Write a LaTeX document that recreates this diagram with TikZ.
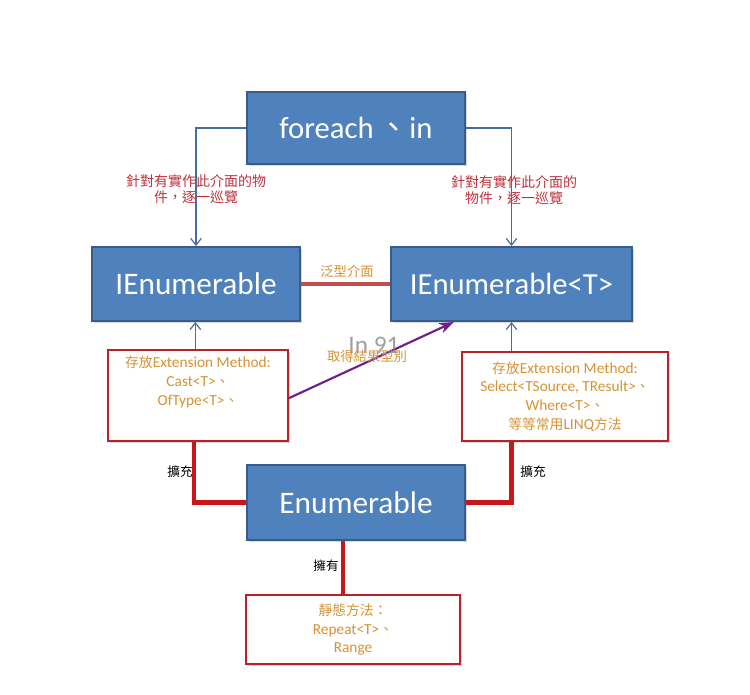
\documentclass[tikz,border=0pt]{standalone}
\usepackage{fontspec}
\setmainfont{Carlito}
\newfontfamily\cjk{Noto Sans CJK TC}
\newfontfamily\cjks[Scale=0.9]{Noto Sans CJK TC}
\usepackage{tikz}
\usetikzlibrary{arrows.meta,shadows}

\definecolor{boxblue}{RGB}{79,129,189}
\definecolor{boxedge}{RGB}{56,93,138}
\definecolor{linkblue}{RGB}{70,110,160}
\definecolor{extred}{RGB}{200,22,26}
\definecolor{genred}{RGB}{192,80,77}
\definecolor{notered}{RGB}{190,50,60}
\definecolor{gold}{RGB}{214,146,52}
\definecolor{edgered}{RGB}{185,35,40}
\definecolor{purp}{RGB}{112,30,140}

\begin{document}
\begin{tikzpicture}[
    x=0.75pt, y=-0.75pt,
    bluebox/.style={draw=boxedge, line width=1.5pt, fill=boxblue, text=white,
                    font=\fontsize{23}{27}\selectfont,
                    drop shadow={opacity=0.3, shadow xshift=1.5pt, shadow yshift=-1.5pt}},
    notebox/.style={draw=edgered, line width=1.3pt, fill=white, align=center, text=gold,
                    font=\fontsize{11.5}{14}\selectfont,
                    drop shadow={opacity=0.3, shadow xshift=1.5pt, shadow yshift=-1.5pt}},
    link/.style={draw=linkblue, line width=0.9pt, -{Straight Barb[length=5pt,width=8pt]}},
    ext/.style={draw=extred, line width=3.2pt},
    rednote/.style={text=notered, align=center, font=\fontsize{10.5}{12}\selectfont\cjk},
    blacknote/.style={font=\fontsize{9.5}{11}\selectfont\cjk}
]
\useasboundingbox (0,0) rectangle (750,694);

% main boxes
\node[bluebox, minimum width=164pt, minimum height=54pt] (foreach) at (356,128) {foreach\,{\cjk 、}in};
\node[bluebox, minimum width=156pt, minimum height=55.5pt, font=\fontsize{23.5}{27}\selectfont] (ienum) at (196,284) {IEnumerable};
\node[bluebox, minimum width=181pt, minimum height=55.5pt] (ienumt) at (511.5,284) {IEnumerable<T>};
\node[bluebox, minimum width=164pt, minimum height=56pt, font=\fontsize{23.5}{27}\selectfont] (enumer) at (356,502.5) {Enumerable};

% extension / static boxes
\node[notebox, minimum width=135pt, minimum height=68pt] (extl) at (198,395.5)
    {{\cjks 存放}Extension Method:\\Cast<T>{\cjks 、}\\OfType<T>{\cjks 、}\\[4pt]\strut};
\node[notebox, minimum width=154.5pt, minimum height=67pt] (extr) at (565,396.5)
    {{\cjks 存放}Extension Method:\\Select<TSource, TResult>{\cjks 、}\\Where<T>{\cjks 、}\\{\cjks 等等常用}LINQ{\cjks 方法}};
\node[notebox, minimum width=160.5pt, minimum height=52pt] (statics) at (353,629.5)
    {{\cjks 靜態方法：}\\Repeat<T>{\cjks 、}\\Range};

% foreach links
\draw[link] (foreach.west) -| (ienum.north);
\draw[link] (foreach.east) -| (ienumt.north);
\node[rednote] (noteL) at (196,189) {針對有實作此介面的物\\件，逐一巡覽};
\node[rednote] (noteR) at (514,190) {針對有實作此介面的\\物件，逐一巡覽};

% generic interface
\draw[draw=genred, line width=3pt] (ienum.east) -- (ienumt.west);
\node[text=gold, font=\fontsize{10}{12}\selectfont\cjk] (gen) at (347,271) {泛型介面};

% extension boxes up to interfaces
\draw[link] ([xshift=-2pt]extl.north) -- ([xshift=-2pt]extl.north |- ienum.south);
\draw[link] (ienumt.south |- extr.north) -- (ienumt.south);

% result type
\draw[draw=purp, line width=1.6pt, -{Stealth[length=11pt,width=8pt]}]
    ([yshift=-2pt]extl.east) -- ([xshift=48pt]ienumt.south west);
\node[text=gray, opacity=0.75, font=\fontsize{19}{22}\selectfont] (mark) at (374,345) {In 91};
\node[text=gold, font=\fontsize{10}{12}\selectfont\cjk] (rtype) at (367,356) {取得結果型別};

% Enumerable extends
\draw[ext] (enumer.west) -| ([xshift=-3pt]extl.south);
\draw[ext] (enumer.east) -| (ienumt.south |- extr.south);
\node[blacknote] (extnL) at (180,472) {擴充};
\node[blacknote] (extnR) at (533,472) {擴充};

% Enumerable owns
\draw[ext] ([xshift=-10pt]enumer.south) -- ([xshift=-10pt]enumer.south |- statics.north);
\node[blacknote] (owns) at (326,566) {擁有};
\end{tikzpicture}
\end{document}
